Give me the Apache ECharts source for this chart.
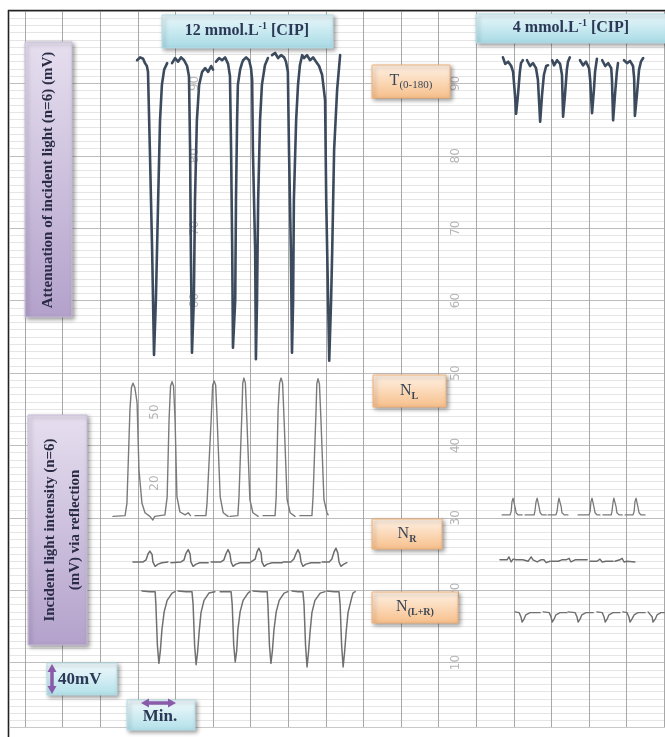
<!DOCTYPE html>
<html><head><meta charset="utf-8">
<script src="https://cdn.jsdelivr.net/npm/echarts@6/dist/echarts.min.js"></script>
<style>html,body{margin:0;padding:0;background:#fff}#c{width:665px;height:737px}</style>
</head><body><div id="c"></div><script>
// ---- chart-paper scale (x: minutes, y: recorder divisions 0-100) ----
const minuteLines = [0,1,2,3,4,5,6,7,8,9,10,11,12,13,14,15,16,17];
const paperScaleRight = [90,80,70,60,50,40,30,20,10];
const paperScaleLeft = [90,80,70,60];
const paperScaleMid = [[44.6,'50'],[34.8,'20']];

// ---- T(0-180): attenuation of incident light, 12 mmol/L ----
const T12 = [
[2.98,93.2],[3.06,93.6],[3.14,93.4],[3.19,92.8],[3.24,92.4],[3.27,91.6],[3.32,80.8],[3.38,67.0],[3.43,52.5],[3.48,60.1],[3.54,73.9],[3.59,84.9],[3.64,89.8],[3.70,91.9],[3.78,92.8],null,
[3.91,92.8],[3.99,93.5],[4.07,93.0],[4.15,93.6],[4.23,93.2],[4.31,92.4],[4.36,91.0],[4.39,80.8],[4.41,67.0],[4.44,52.8],[4.49,60.1],[4.52,73.9],[4.57,84.9],[4.63,89.8],[4.71,91.6],[4.79,92.1],[4.87,91.6],[4.95,92.4],[5.00,91.9],null,
[5.08,93.0],[5.16,93.5],[5.24,93.2],[5.32,93.6],[5.40,92.7],[5.45,91.0],[5.48,80.8],[5.51,67.0],[5.53,53.5],[5.59,60.1],[5.61,73.9],[5.64,84.9],[5.66,89.8],[5.72,91.9],[5.77,92.8],
[5.80,93.2],[5.88,93.6],[5.96,93.2],[6.01,92.1],[6.04,90.5],[6.06,80.8],[6.12,67.0],[6.14,51.9],[6.17,60.1],[6.20,73.9],[6.25,84.9],[6.30,89.8],[6.38,92.5],[6.46,93.5],null,
[6.57,93.9],[6.65,94.2],[6.73,93.5],[6.81,93.9],[6.89,93.6],[6.94,93.0],[6.99,91.6],[7.02,80.8],[7.07,67.0],[7.10,52.8],[7.13,60.1],[7.15,73.9],[7.21,84.9],[7.26,89.8],[7.31,92.5],[7.37,93.9],
[7.42,93.5],[7.50,93.9],[7.58,93.2],[7.66,93.6],[7.74,93.0],[7.82,92.4],[7.90,91.2],[7.98,87.7],[8.01,73.9],[8.06,60.1],[8.09,51.7],[8.14,60.1],[8.17,67.0],[8.22,80.8],[8.30,89.1],[8.38,93.9]
];
// ---- T(0-180), 4 mmol/L ----
const T4 = [
[12.71,93.6],[12.77,92.7],[12.85,93.0],[12.93,92.4],[12.98,91.6],[13.03,88.4],[13.06,85.8],[13.11,88.4],[13.16,91.6],[13.19,92.8],[13.24,93.2],null,
[13.35,93.2],[13.43,92.4],[13.51,92.8],[13.59,92.1],[13.64,90.5],[13.70,84.7],[13.75,88.4],[13.80,91.2],[13.86,92.4],[13.91,92.5],null,
[14.02,93.2],[14.07,92.5],[14.15,93.2],[14.23,92.7],[14.28,91.2],[14.31,85.4],[14.36,88.4],[14.41,91.9],[14.44,93.0],[14.49,93.6],null,
[14.76,93.2],[14.84,92.5],[14.92,93.0],[15.00,92.1],[15.03,90.5],[15.08,85.9],[15.13,89.1],[15.16,91.6],[15.19,92.7],[15.21,93.4],null,
[15.35,93.2],[15.43,92.4],[15.51,92.8],[15.59,92.1],[15.61,90.5],[15.64,84.9],[15.69,88.4],[15.74,91.6],[15.77,92.8],null,
[15.93,93.2],[16.01,92.8],[16.09,93.1],[16.17,92.4],[16.20,90.7],[16.22,85.5],[16.28,88.8],[16.33,91.9],[16.38,93.0],[16.44,93.5]
];
// ---- N_L, 12 mmol/L ----
const NL12 = [
[2.34,30.2],[2.66,30.3],[2.71,32.0],[2.79,44.9],[2.83,48.0],[2.87,48.6],[2.92,48.0],[2.98,45.9],[3.03,36.6],[3.11,32.0],[3.19,30.7],[3.32,30.2],[3.40,29.7],[3.45,30.2],[3.72,30.4],
[3.78,32.9],[3.83,43.5],[3.87,48.2],[3.91,48.8],[3.95,48.2],[3.99,43.5],[4.04,32.9],[4.12,30.8],[4.26,30.4],[4.34,30.7],[4.40,30.3],null,
[4.52,30.3],[4.81,30.3],[4.84,32.0],[4.95,43.5],[4.99,48.3],[5.03,48.9],[5.07,48.3],[5.11,43.5],[5.19,32.9],[5.27,30.7],[5.40,30.2],null,
[5.45,30.2],[5.66,30.3],[5.69,32.9],[5.77,44.9],[5.79,48.6],[5.82,49.3],[5.86,48.6],[5.90,43.5],[5.98,32.5],[6.06,30.7],[6.20,30.2],null,
[6.33,30.3],[6.65,30.3],[6.68,32.9],[6.73,44.9],[6.77,48.6],[6.81,49.3],[6.85,48.6],[6.89,43.5],[6.97,32.5],[7.05,30.7],[7.18,30.2],null,
[7.31,30.3],[7.63,30.3],[7.66,32.9],[7.74,44.9],[7.76,48.5],[7.79,49.2],[7.83,48.5],[7.87,43.5],[7.95,32.5],[8.03,30.7],[8.06,30.4]
];
// ---- N_R, 12 mmol/L ----
const NR12 = [
[2.87,23.9],[3.14,23.9],[3.22,24.2],[3.27,25.0],[3.32,25.4],[3.38,24.9],[3.40,23.9],[3.46,23.3],[3.54,23.6],[3.64,23.8],[3.80,23.9],null,
[3.88,23.8],[4.15,23.9],[4.23,24.2],[4.28,25.1],[4.34,25.6],[4.39,25.0],[4.41,23.9],[4.47,23.3],[4.55,23.6],[4.65,23.8],[4.87,23.8],null,
[4.95,23.9],[5.21,23.9],[5.29,24.2],[5.35,25.1],[5.40,25.6],[5.45,25.0],[5.48,23.9],[5.53,23.3],[5.61,23.6],[5.72,23.8],[5.98,23.8],null,
[6.01,23.9],[6.04,23.9],[6.12,24.3],[6.17,25.3],[6.22,25.8],[6.28,25.1],[6.30,23.9],[6.36,23.3],[6.44,23.6],[6.57,23.8],[6.84,23.8],null,
[6.86,23.9],[7.07,23.9],[7.15,24.3],[7.21,25.1],[7.26,25.6],[7.31,25.0],[7.34,23.9],[7.39,23.3],[7.47,23.6],[7.61,23.8],[7.85,23.8],null,
[7.90,23.9],[8.09,23.9],[8.16,24.3],[8.22,25.3],[8.27,25.8],[8.32,25.1],[8.35,23.9],[8.40,23.3],[8.48,23.6],[8.56,23.8]
];
// ---- N(L+R), 12 mmol/L ----
const NLR12 = [
[3.11,19.9],[3.32,19.8],[3.46,19.8],[3.48,18.0],[3.52,12.4],[3.56,9.9],[3.60,11.7],[3.64,14.5],[3.70,17.0],[3.78,18.6],[3.91,19.6],[3.99,19.8],null,
[4.07,19.9],[4.28,19.8],[4.44,19.8],[4.47,18.0],[4.51,12.4],[4.55,9.7],[4.59,11.5],[4.63,14.2],[4.68,16.9],[4.76,18.6],[4.89,19.6],[5.05,19.8],null,
[5.19,19.8],[5.35,19.8],[5.48,19.8],[5.51,18.0],[5.55,12.4],[5.59,10.1],[5.63,11.7],[5.66,14.5],[5.72,17.0],[5.80,18.6],[5.93,19.6],[5.98,19.8],null,
[6.06,19.9],[6.30,19.8],[6.44,19.8],[6.46,18.0],[6.50,12.4],[6.54,9.9],[6.58,11.7],[6.62,14.5],[6.68,17.0],[6.76,18.6],[6.89,19.6],[6.99,19.8],null,
[7.10,19.9],[7.26,19.8],[7.39,19.8],[7.42,18.0],[7.46,12.4],[7.50,9.4],[7.54,11.5],[7.58,14.2],[7.63,16.9],[7.71,18.6],[7.85,19.6],[7.98,19.8],null,
[8.03,19.9],[8.22,19.8],[8.35,19.8],[8.38,18.0],[8.42,12.4],[8.46,9.4],[8.50,11.5],[8.54,14.2],[8.59,16.9],[8.67,18.6],[8.72,19.6],[8.78,19.8]
];
// ---- 4 mmol/L reflection traces ----
const NL4 = [
[12.69,30.4],[12.90,30.4],[12.93,30.9],[12.95,32.2],[12.98,32.7],[13.01,32.5],[13.03,31.5],[13.06,30.7],[13.11,30.4],[13.22,30.4],null,
[13.30,30.4],[13.54,30.4],[13.56,30.9],[13.59,32.2],[13.62,32.7],[13.64,32.5],[13.67,31.5],[13.70,30.7],[13.75,30.4],[13.86,30.4],null,
[13.91,30.4],[14.12,30.4],[14.15,30.9],[14.18,32.2],[14.20,32.7],[14.23,32.5],[14.26,31.5],[14.28,30.7],[14.34,30.4],[14.44,30.4],null,
[14.71,30.4],[15.00,30.4],[15.03,30.9],[15.05,32.2],[15.08,32.7],[15.11,32.5],[15.13,31.5],[15.16,30.7],[15.21,30.4],[15.29,30.4],null,
[15.37,30.4],[15.59,30.4],[15.61,30.9],[15.64,32.2],[15.66,32.7],[15.69,32.5],[15.72,31.5],[15.74,30.7],[15.80,30.4],[15.88,30.4],null,
[15.96,30.4],[16.17,30.4],[16.20,30.9],[16.22,32.2],[16.25,32.7],[16.28,32.5],[16.30,31.5],[16.33,30.7],[16.38,30.4],[16.49,30.4]
];
const NR4 = [
[12.63,24.2],[12.82,24.2],[12.87,24.6],[12.93,23.9],[12.98,24.3],[13.06,24.2],[13.22,24.2],null,
[13.24,24.2],[13.38,24.0],[13.46,24.6],[13.51,24.2],[13.62,23.9],[13.72,24.2],[13.80,24.2],[13.86,23.8],[13.96,24.0],null,
[13.99,24.0],[14.18,24.0],[14.28,24.2],[14.39,24.2],[14.47,24.4],[14.52,23.9],[14.63,24.2],[14.95,24.2],null,
[15.03,24.0],[15.21,24.0],[15.29,24.3],[15.35,23.9],[15.45,24.0],[15.64,24.0],null,
[15.69,24.0],[15.82,24.2],[15.88,24.4],[15.93,23.9],[16.01,24.0],[16.22,23.9]
];
const NLR4 = [
[13.03,17.0],[13.14,16.9],[13.19,16.3],[13.22,15.6],[13.27,16.0],[13.32,16.6],[13.43,16.9],[13.70,16.9],null,
[13.78,17.0],[13.94,16.9],[13.99,16.3],[14.02,15.6],[14.07,16.0],[14.12,16.6],[14.23,16.9],[14.41,16.9],null,
[14.44,17.0],[14.63,16.9],[14.68,16.3],[14.71,15.6],[14.76,16.0],[14.81,16.6],[14.92,16.9],[15.11,16.9],null,
[15.21,17.0],[15.35,16.9],[15.40,16.3],[15.43,15.6],[15.48,16.0],[15.53,16.6],[15.64,16.9],[15.82,16.9],null,
[15.90,17.0],[16.01,16.9],[16.06,16.3],[16.09,15.6],[16.14,16.0],[16.20,16.6],[16.30,16.9],[16.49,16.9],null,
[16.57,17.0],[16.62,16.9],[16.68,16.3],[16.70,15.6],[16.76,16.0],[16.81,16.6],[16.91,16.9],[17.00,16.9]
];

// ---------------- rendering ----------------
const SERIF = '"Liberation Serif","DejaVu Serif",serif';
const chart = echarts.init(document.getElementById('c'), null, {renderer:'canvas'});

function trace(name, data, color, width){
  return {name, type:'line', data, showSymbol:false, symbol:'none', connectNulls:false,
    silent:true, z:5, lineStyle:{color, width, cap:'round', join:'round'}};
}
function labelSeries(data){
  return {type:'scatter', data, symbol:'circle', symbolSize:1, silent:true, z:3,
    itemStyle:{color:'rgba(255,255,255,0)'},
    label:{show:true, position:'inside', rotate:90, formatter:p=>p.data[2],
      color:'#a3a3a3', fontSize:12, fontFamily:'"DejaVu Sans",sans-serif'}};
}
const grad = (a,b)=>new echarts.graphic.LinearGradient(0,0,0,1,[{offset:0,color:a},{offset:1,color:b}]);
const shadow = {shadowColor:'rgba(0,0,0,0.38)', shadowBlur:4, shadowOffsetX:2, shadowOffsetY:2};
function box(x,y,w,h,c1,c2,stroke){
  return {type:'rect', z:60, shape:{x,y,width:w,height:h},
    style:Object.assign({fill:grad(c1,c2), stroke, lineWidth:1}, shadow)};
}
function txt(x,y,text,rich,extra){
  return Object.assign({type:'text', z:62, x, y,
    style:{text, rich, align:'center', verticalAlign:'middle'}}, extra||{});
}
const CY1='#eaf8fb', CY2='#a7dae5', CYS='#b6dee7';
const PE1='#fff2e6', PE2='#f7bf8a', PES='#f1b27a';
const LV1='#e6dfef', LV2='#b3a1cb', LVS='#c9bdd9';
const titleRich = {
  n:{font:'bold 16px '+SERIF, fill:'#2b3856', lineHeight:20},
  s:{font:'bold 10px '+SERIF, fill:'#2b3856', lineHeight:10, verticalAlign:'top'}
};
const subRich = {
  n:{font:'16px '+SERIF, fill:'#3a4656', lineHeight:20},
  b:{font:'11px '+SERIF, fill:'#3a4656', lineHeight:11, verticalAlign:'bottom'},
  bb:{font:'bold 10px '+SERIF, fill:'#3a4656', lineHeight:11, verticalAlign:'bottom'}
};
const purple = '#8a5aab';

const graphics = [
  // paper border and bottom edge
  {type:'rect', z:50, shape:{x:9, y:727.5, width:660, height:12}, style:{fill:'#fff'}},
  {type:'line', z:51, shape:{x1:8.5, y1:10, x2:8.5, y2:737}, style:{stroke:'#222', lineWidth:1.6}},
  {type:'line', z:51, shape:{x1:8, y1:10.5, x2:665, y2:10.5}, style:{stroke:'#222', lineWidth:1.6}},
  {type:'line', z:51, shape:{x1:9, y1:727.5, x2:665, y2:727.5}, style:{stroke:'#c8c8c8', lineWidth:1}},
  // titles
  box(162,15,171,33,CY1,CY2,CYS),
  txt(247,31,'{n|12 mmol.L}{s|-1}{n| [CIP]}',titleRich),
  box(476,14,192,29,CY1,CY2,CYS),
  txt(571,28,'{n|4 mmol.L}{s|-1}{n| [CIP]}',titleRich),
  // trace labels
  box(372,65,78,33,PE1,PE2,PES),
  txt(411,81,'{n|T}{b|(0-180)}',subRich),
  box(373,375,73,32,PE1,PE2,PES),
  txt(409,391,'{n|N}{bb|L}',subRich),
  box(372,519,70,30,PE1,PE2,PES),
  txt(407,534,'{n|N}{bb|R}',subRich),
  box(372,592,86,31,PE1,PE2,PES),
  txt(415,607,'{n|N}{bb|(L+R)}',subRich),
  // y-axis titles
  box(25,42,47,275,LV1,LV2,LVS),
  txt(48,180,'',null,{rotation:Math.PI/2,
     style:{text:'Attenuation of incident light (n=6) (mV)', font:'bold 15px '+SERIF, fill:'#2a2b45', align:'center', verticalAlign:'middle'}}),
  box(28,415,59,230,LV1,LV2,LVS),
  txt(63,530,'',null,{rotation:Math.PI/2,
     style:{text:'Incident light intensity (n=6)\n(mV) via reflection', font:'bold 15px '+SERIF, fill:'#2a2b45', align:'center', verticalAlign:'middle', lineHeight:25}}),
  // scale boxes
  box(47,663,70,32,'#f2fbfd','#b2e0e9',CYS),
  {type:'line', z:63, shape:{x1:52, y1:670, x2:52, y2:688}, style:{stroke:purple, lineWidth:3.5}},
  {type:'polygon', z:63, shape:{points:[[47.5,672],[56.5,672],[52,664]]}, style:{fill:purple}},
  {type:'polygon', z:63, shape:{points:[[47.5,686],[56.5,686],[52,694]]}, style:{fill:purple}},
  {type:'text', z:63, x:58, y:680, style:{text:'40mV', font:'bold 17px '+SERIF, fill:'#2b3856', align:'left', verticalAlign:'middle'}},
  box(127,700,68,30,'#f2fbfd','#b2e0e9',CYS),
  {type:'line', z:63, shape:{x1:147, y1:703, x2:170, y2:703}, style:{stroke:purple, lineWidth:3.5}},
  {type:'polygon', z:63, shape:{points:[[149,698.5],[149,707.5],[141,703]]}, style:{fill:purple}},
  {type:'polygon', z:63, shape:{points:[[168,698.5],[168,707.5],[176,703]]}, style:{fill:purple}},
  {type:'text', z:63, x:160, y:717, style:{text:'Min.', font:'bold 17px '+SERIF, fill:'#2b3856', align:'center', verticalAlign:'middle'}}
];

chart.setOption({
  animation:false,
  backgroundColor:'#ffffff',
  grid:{left:10, top:11, width:654.24, height:724, containLabel:false},
  xAxis:{type:'value', min:-0.4, max:17, axisLine:{show:false}, axisTick:{show:false},
    axisLabel:{show:false}, splitLine:{show:false}},
  yAxis:{type:'value', min:0, max:100, interval:10, axisLine:{show:false}, axisTick:{show:false},
    axisLabel:{show:false},
    splitLine:{show:true, lineStyle:{color:'#bdbdbd', width:1}},
    minorTick:{show:false, splitNumber:10},
    minorSplitLine:{show:true, lineStyle:{color:'#e5e5e5', width:1}}},
  series:[
    {type:'line', data:[[-0.4,0]], symbol:'none', silent:true, z:1, lineStyle:{opacity:0},
      markLine:{silent:true, symbol:['none','none'], label:{show:false},
        lineStyle:{color:'#a8a8a8', width:1, type:'solid'},
        data:minuteLines.map(v=>({xAxis:v}))}},
    labelSeries(paperScaleRight.map(v=>[11.46, v, String(v)])),
    labelSeries(paperScaleLeft.map(v=>[4.52, v, String(v)])),
    labelSeries(paperScaleMid.map(d=>[3.46, d[0], d[1]])),
    trace('T 12', T12, '#3c4a5d', 2.6),
    trace('T 4', T4, '#3c4a5d', 2.6),
    trace('NL 12', NL12, '#7a7a7a', 1.4),
    trace('NR 12', NR12, '#6c6c6c', 1.5),
    trace('NLR 12', NLR12, '#707070', 1.5),
    trace('NL 4', NL4, '#7a7a7a', 1.3),
    trace('NR 4', NR4, '#6c6c6c', 1.4),
    trace('NLR 4', NLR4, '#707070', 1.4)
  ],
  graphic:{elements:graphics}
});
</script></body></html>
